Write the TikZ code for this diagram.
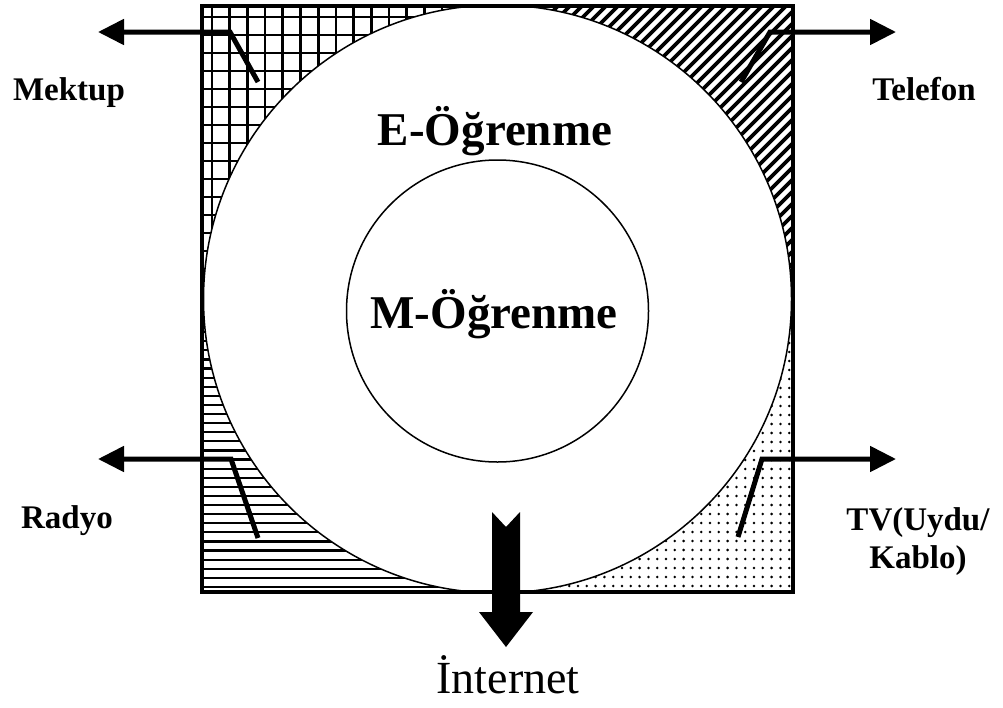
\documentclass[tikz,border=0pt]{standalone}
\usepackage{fontspec}
\setmainfont{Liberation Serif}
\usetikzlibrary{arrows.meta}
\tikzset{
  conn/.style={line width=5pt, line join=miter, -{Triangle[length=26pt,width=25pt]}},
  lab/.style={font=\fontsize{33}{38}\selectfont\bfseries, align=center, inner sep=0pt},
  big/.style={font=\fontsize{47}{56}\selectfont\bfseries, inner sep=0pt},
  gridln/.style={line width=2.7pt},
  hatchln/.style={line width=3.6pt},
  hln/.style={line width=2.2pt},
  ring/.style={line width=1.5pt},
}
\begin{document}
\begin{tikzpicture}[x=1pt,y=-1pt]
\useasboundingbox (0,0) rectangle (1003,707);
\coordinate (C) at (497.5,299);
% top-left grid
\begin{scope}
  \clip (202,6) rectangle (497.5,299);
  \foreach \i in {-1,...,17} {
    \draw[gridln] ({212+17.7*\i},0) -- ({212+17.7*\i},300);
    \draw[gridln] (200,{17+18*\i}) -- (500,{17+18*\i});
  }
\end{scope}
% top-right diagonal hatch
\begin{scope}
  \clip (497.5,6) rectangle (793,299);
  \foreach \i in {0,...,70} {
    \draw[hatchln] ({480+12*\i-320},320) -- ({480+12*\i},0);
  }
\end{scope}
% bottom-left horizontal lines
\begin{scope}
  \clip (202,299) rectangle (497.5,592);
  \foreach \i in {-25,...,10} {
    \draw[hln] (200,{505+9.1*\i}) -- (500,{505+9.1*\i});
  }
\end{scope}
% bottom-right dots
\begin{scope}
  \clip (497.5,299) rectangle (793,592);
  \foreach \i in {-25,...,10} {
    \foreach \j in {-25,...,12} {
      \fill ({710+8.8*\i},{505+9*\j}) circle (1.4);
    }
  }
\end{scope}
% circles
\fill[white] (C) circle (294);
\draw[ring] (C) circle (294);
\draw[ring] (497.5,311) circle (151);
% square
\draw[line width=4pt] (202,6) rectangle (793,592);
% connectors
\coordinate (m0) at (258,82);  \coordinate (m1) at (230,32);  \coordinate (m2) at (98,32);
\coordinate (t0) at (741,82);  \coordinate (t1) at (770,32);  \coordinate (t2) at (896,32);
\coordinate (r0) at (258,538); \coordinate (r1) at (231,459); \coordinate (r2) at (98,459);
\coordinate (v0) at (738,537); \coordinate (v1) at (762,459); \coordinate (v2) at (896,459);
\draw[conn] (m0) -- (m1) -- (m2);
\draw[conn] (t0) -- (t1) -- (t2);
\draw[conn] (r0) -- (r1) -- (r2);
\draw[conn] (v0) -- (v1) -- (v2);
% internet block arrow
\coordinate (ia) at (506,512);
\fill (492,512) -- (506,527) -- (520,512) -- (520,612) -- (533,612) -- (506,647) -- (479,612) -- (492,612) -- cycle;
% labels
\node[big, anchor=base] (e) at (495,145) {E-Öğrenme};
\node[big, anchor=base] (m) at (494,328) {M-Öğrenme};
\node[font=\fontsize{46}{55}\selectfont, anchor=base, inner sep=0pt] (int) at (508,693) {İnternet};
\node[lab, anchor=base] (mek) at (69,100) {Mektup};
\node[lab, anchor=base] (tel) at (924,100) {Telefon};
\node[lab, anchor=base] (rad) at (67,528) {Radyo};
\node[lab, anchor=base] (tv) at (918,568) {TV(Uydu/\\Kablo)};
\end{tikzpicture}
\end{document}
